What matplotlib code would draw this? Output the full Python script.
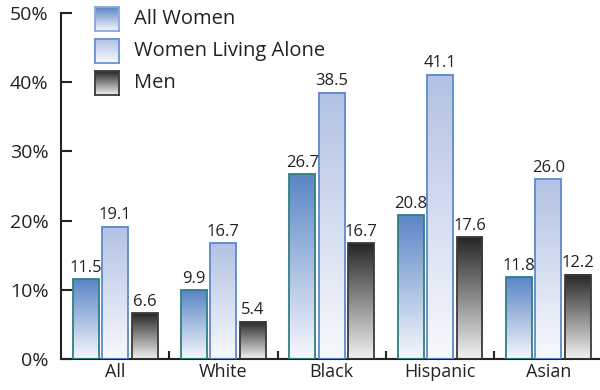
import numpy as np
import matplotlib
matplotlib.use("Agg")
import matplotlib.pyplot as plt
from matplotlib.colors import LinearSegmentedColormap

plt.rcParams['font.family'] = ['Open Sans', 'DejaVu Sans']

groups = ["All", "White", "Black", "Hispanic", "Asian"]
series = ["All Women", "Women Living Alone", "Men"]
all_women = [11.5, 9.9, 26.7, 20.8, 11.8]
living_alone = [19.1, 16.7, 38.5, 41.1, 26.0]
men = [6.6, 5.4, 16.7, 17.6, 12.2]
yticks = [0, 10, 20, 30, 40, 50]

styles = [
    dict(top="#5a85c5", bottom="#f6f8fd", edge="#2f7f80", legend_edge="#8aa8dc"),
    dict(top="#b2c2e3", bottom="#f8f9fd", edge="#5e88d2", legend_edge="#6a90d8"),
    dict(top="#262626", bottom="#f2f2f2", edge="#3a3a3a", legend_edge="#3a3a3a"),
]

def grad_cmap(s):
    return LinearSegmentedColormap.from_list("g", [s["bottom"], s["top"]])

W, H = 600, 390
fig = plt.figure(figsize=(W / 100, H / 100), dpi=100)
ax = fig.add_axes([61 / W, 31 / H, (W - 61) / W, (359 - 13) / H])

grad = np.linspace(0, 1, 256).reshape(-1, 1)
width = 0.24
step = 0.272
x = np.arange(len(groups))
for i, (vals, s) in enumerate(zip([all_women, living_alone, men], styles)):
    cm = grad_cmap(s)
    for xc, v in zip(x + (i - 1) * step, vals):
        l, r = xc - width / 2, xc + width / 2
        ax.imshow(grad, extent=[l, r, 0, v], origin="lower", cmap=cm,
                  aspect="auto", zorder=2, interpolation="bilinear")
        ax.bar(xc, v, width=width, facecolor="none", edgecolor=s["edge"],
               linewidth=1.3, zorder=3)
        ax.text(xc, v + 0.5, f"{v:.1f}", ha="center", va="bottom",
                fontsize=12, color="#222222", zorder=4)

ax.set_xlim(-0.5, 4.477)
ax.set_ylim(0, 50)
ax.set_yticks(yticks)
ax.set_yticklabels([f"{t}%" for t in yticks], fontsize=14, color="#222222")
ax.set_xticks(x)
ax.set_xticklabels(groups, fontsize=13, color="#222222")
ax.set_xticks(np.arange(0.5, 4.0, 1.0), minor=True)
ax.tick_params(axis="x", which="major", length=0, pad=3)
ax.tick_params(axis="x", which="minor", direction="in", length=6, width=1.5, color="#222222")
ax.tick_params(axis="y", which="major", direction="in", length=8, width=1.5, color="#222222", pad=9)
for sp in ["top", "right"]:
    ax.spines[sp].set_visible(False)
for sp in ["left", "bottom"]:
    ax.spines[sp].set_linewidth(1.5)
    ax.spines[sp].set_color("#222222")
ax.patch.set_alpha(0)

# legend: gradient swatches with labels
swatch_y = [7, 39, 71]
for s, name, yt in zip(styles, series, swatch_y):
    sax = fig.add_axes([95 / W, 1 - (yt + 24) / H, 24 / W, 24 / H])
    sax.imshow(grad, origin="lower", cmap=grad_cmap(s), aspect="auto",
               extent=[0, 1, 0, 1], interpolation="bilinear")
    sax.set_xticks([]); sax.set_yticks([])
    for sp in sax.spines.values():
        sp.set_color(s["legend_edge"]); sp.set_linewidth(1.3)
    fig.text(134 / W, 1 - (yt + 12) / H, name, ha="left", va="center",
             fontsize=14.5, color="#222222")

fig.savefig("out.png", dpi=100)
